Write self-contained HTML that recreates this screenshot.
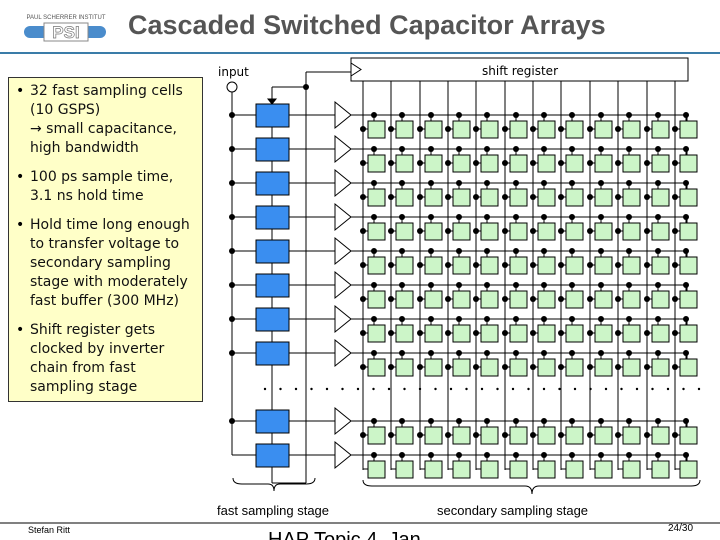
<!DOCTYPE html>
<html><head><meta charset="utf-8"><style>
html,body{margin:0;padding:0;background:#fff;}
#c{position:relative;width:720px;height:540px;overflow:hidden;font-family:"DejaVu Sans","Liberation Sans",sans-serif;}
.title{position:absolute;left:128px;top:10px;font:bold 27px "Liberation Sans",sans-serif;color:#555;white-space:nowrap;}
.box{position:absolute;left:8px;top:77px;width:193px;height:323px;background:#ffffc8;border:1px solid #333;}
.t{position:absolute;left:30px;font-size:14px;line-height:19px;color:#111;white-space:nowrap;}
.b{position:absolute;left:16px;font-size:14px;line-height:19px;}
</style></head><body><div id="c">
<svg id="s" width="720" height="540" style="position:absolute;left:0;top:0">
<line x1="0" y1="53" x2="720" y2="53" stroke="#3a7ca8" stroke-width="2"/>
<rect x="24" y="26" width="82" height="12" rx="6" fill="#4a8ccc"/>
<rect x="44" y="23" width="44" height="18" fill="#fff" stroke="#888"/>
<text x="66" y="38" font-family="Liberation Sans" font-weight="bold" font-size="17" fill="#fff" stroke="#777" stroke-width="0.7" text-anchor="middle">PSI</text>
<text x="66" y="19" font-family="Liberation Sans" font-size="6" fill="#555" text-anchor="middle">PAUL SCHERRER INSTITUT</text>
<line x1="0" y1="523" x2="720" y2="523" stroke="#000" stroke-width="1"/>
<text x="28" y="533" font-family="Liberation Sans" font-size="9">Stefan Ritt</text>
<text x="668" y="531" font-family="Liberation Sans" font-size="10">24/30</text>
<text x="268" y="546" font-family="Liberation Sans" font-size="20">HAP Topic 4, Jan.</text>
<text x="218" y="76" font-family="DejaVu Sans" font-size="12">input</text>
<rect x="351" y="58" width="337" height="23" fill="#fff" stroke="#000"/>
<polyline points="351,63 361,69.5 351,76" fill="none" stroke="#000"/>
<text x="482" y="75" font-family="DejaVu Sans" font-size="12">shift register</text>
<text x="217" y="515" font-family="Liberation Sans" font-size="13">fast sampling stage</text>
<text x="437" y="515" font-family="Liberation Sans" font-size="13">secondary sampling stage</text>
<path d="M233,478 Q233,484 242,484 L268,484 Q274,484 274,491 Q274,484 280,484 L306,484 Q315,484 315,478" fill="none" stroke="#000"/>
<path d="M363,480 Q363,486 372,486 L525,486 Q532,486 532,494 Q532,486 539,486 L691,486 Q700,486 700,480" fill="none" stroke="#000"/>
<g id="g" stroke="#000" stroke-width="1"></g>
</svg>
<div class="title">Cascaded Switched Capacitor Arrays</div>
<div class="box"></div>
<div class="b" style="top:82px">•</div><div class="t" style="top:82px">32 fast sampling cells<br>(10 GSPS)<br>→ small capacitance,<br>high bandwidth</div>
<div class="b" style="top:168px">•</div><div class="t" style="top:168px">100 ps sample time,<br>3.1 ns hold time</div>
<div class="b" style="top:216px">•</div><div class="t" style="top:216px">Hold time long enough<br>to transfer voltage to<br>secondary sampling<br>stage with moderately<br>fast buffer (300 MHz)</div>
<div class="b" style="top:321px">•</div><div class="t" style="top:321px">Shift register gets<br>clocked by inverter<br>chain from fast<br>sampling stage</div>
</div>
<script>
var g=document.getElementById('g'),h='';
function L(a,b,c,d){h+='<line x1="'+a+'" y1="'+b+'" x2="'+c+'" y2="'+d+'"/>';}
function D(x,y,r){h+='<circle cx="'+x+'" cy="'+y+'" r="'+(r||3)+'" fill="#000" stroke="none"/>';}
var rows=[115,149,183,217,251,285,319,353,421,455];
var cx=[];for(var i=0;i<12;i++)cx.push(Math.round(368+28.35*i));
L(232,92,232,455);L(232,455,256,455);
h+='<circle cx="232" cy="87" r="5" fill="#fff"/>';
L(306,72,306,483);L(306,72,351,72);L(306,87,272,87);L(272,87,272,100);
h+='<polygon points="268,99 276,99 272,104" fill="#000"/>';D(306,87);
L(272,104,272,483);L(272,483,306,483);
for(var i=0;i<12;i++){L(cx[i]-5,81,cx[i]-5,470);}
rows.forEach(function(y,r){
 if(r<9){L(232,y,256,y);D(232,y);}
 h+='<rect x="256" y="'+(y-11)+'" width="33" height="23" fill="#3a8ef0" stroke="#000"/>';
 L(289,y,335,y);
 h+='<polygon points="335,'+(y-13)+' 351,'+y+' 335,'+(y+13)+'" fill="#fff"/>';
 L(351,y,687,y);L(687,y,687,y+6);
 for(var i=0;i<12;i++){
  var x=cx[i];
  D(x+6,y);L(x+6,y,x+6,y+6);
  h+='<rect x="'+x+'" y="'+(y+6)+'" width="17" height="17" fill="#ccf5c8" stroke="#000"/>';
  L(x-5,y+14,x,y+14);
  if(r<9){D(x-5,y+14);}
 }
});
for(var x=265;x<700;x+=15.5){D(x,389,1.2);}
g.innerHTML=h;
</script>
</body></html>
